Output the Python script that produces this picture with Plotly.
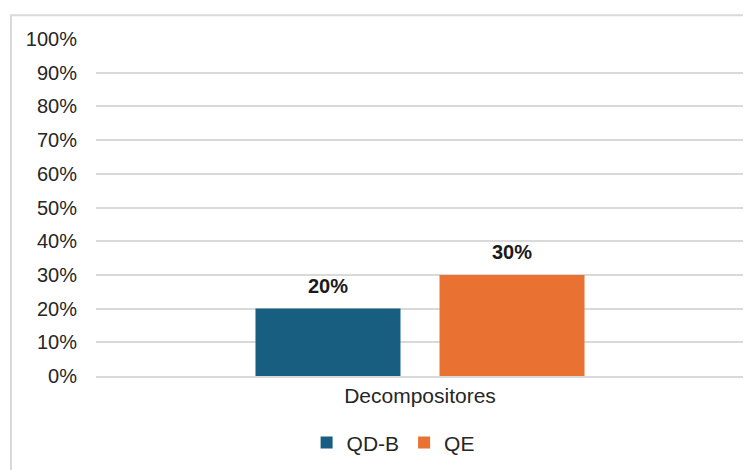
import plotly.graph_objects as go

categories = ["Decompositores"]
series_names = ["QD-B", "QE"]
qdb_values = [0.20]
qe_values = [0.30]
tick_vals = [i / 10 for i in range(11)]
tick_text = [f"{i*10}%" for i in range(11)]

colors = {"QD-B": "#175E80", "QE": "#E97132"}
label_offsets = {"QD-B": -92, "QE": 92}

fig = go.Figure()
annotations = []
for name, vals in zip(series_names, [qdb_values, qe_values]):
    fig.add_trace(go.Bar(
        x=categories, y=vals, name=name,
        marker=dict(color=colors[name], line=dict(width=0)),
    ))
    for c, v in zip(categories, vals):
        annotations.append(dict(
            x=c, y=v, xref="x", yref="y", text=f"<b>{v*100:.0f}%</b>",
            showarrow=False, xshift=label_offsets[name], yanchor="bottom", yshift=10,
            font=dict(family="Liberation Sans, Arial", size=20, color="#1a1a1a"),
        ))

# page body has an 8px margin, so the figure is drawn at (8, 8)
fig.update_layout(
    width=743, height=462,
    margin=dict(l=88, r=7, t=31, b=92),
    paper_bgcolor="white", plot_bgcolor="white",
    barmode="group", bargap=0.432, bargroupgap=0.212,
    font=dict(family="Liberation Sans, Arial", size=20, color="#262626"),
    showlegend=True,
    legend=dict(orientation="h", x=0.325, xanchor="left", y=-0.198, yanchor="middle",
                font=dict(size=21, color="#262626"), itemwidth=30, traceorder="normal"),
    yaxis=dict(range=[0, 1], tickvals=tick_vals, ticktext=tick_text,
               showgrid=True, gridcolor="#d9d9d9", gridwidth=1.5,
               zeroline=False, showline=False, ticks="", ticklabelstandoff=18,
               tickfont=dict(size=20, color="#262626")),
    xaxis=dict(showgrid=False, showline=True, linecolor="#d9d9d9", linewidth=1.5,
               ticks="", tickfont=dict(size=21, color="#262626")),
    annotations=annotations,
    shapes=[dict(type="rect", xref="paper", yref="paper",
                 x0=(11 - 96) / 648, x1=(752 - 96) / 648,
                 y0=(378 - 490) / 339, y1=(378 - 15) / 339,
                 line=dict(color="#d9d9d9", width=2), fillcolor="rgba(0,0,0,0)",
                 layer="below")],
)

fig.write_html("out.html")
